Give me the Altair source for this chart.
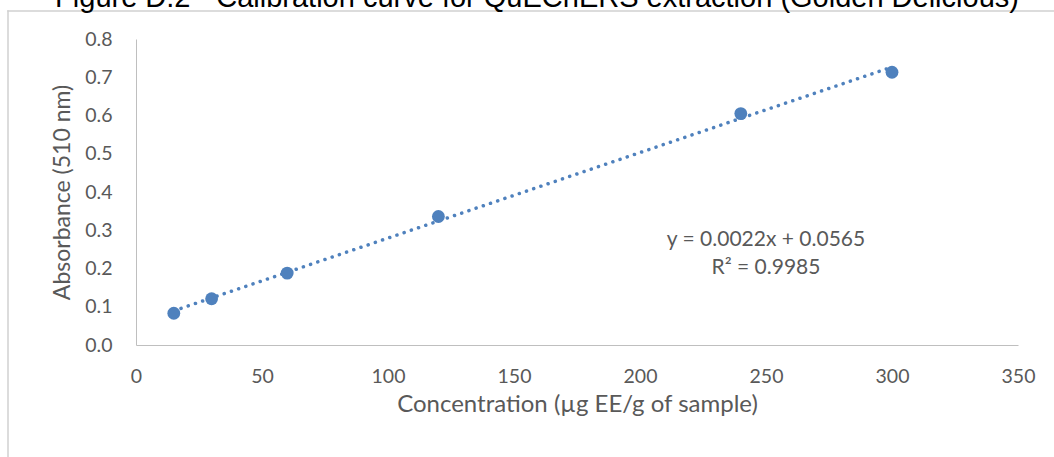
import altair as alt
import pandas as pd

# data
concentration = [15, 30, 60, 120, 240, 300]
absorbance = [0.083, 0.121, 0.188, 0.336, 0.605, 0.713]

x_ticks = [0, 50, 100, 150, 200, 250, 300, 350]
y_ticks = [0.0, 0.1, 0.2, 0.3, 0.4, 0.5, 0.6, 0.7, 0.8]

eq_lines = ["y = 0.0022x + 0.0565", "R\u00b2 = 0.9985"]
eq_x = [250, 250]
eq_y = [0.2745, 0.201]

title_text = ["Figure D.2 - Calibration curve for QuEChERS extraction (Golden Delicious)"]

df = pd.DataFrame({"x": concentration, "y": absorbance})
eq_df = pd.DataFrame({"t": eq_lines, "x": eq_x, "y": eq_y})
title_df = pd.DataFrame({"t": title_text})

BLUE = "#4F81BD"
GREY = "#595959"
FONT = "Lato"

xs = alt.Scale(domain=[0, 350], nice=False, zero=True)
ys = alt.Scale(domain=[0, 0.8], nice=False, zero=True)

x_axis = alt.Axis(
    values=x_ticks, title="Concentration (\u00b5g EE/g of sample)", format="d",
    domainColor="#BFBFBF", ticks=False, grid=False, labelPadding=22,
    labelFlush=False, labelOverlap=False,
    labelColor=GREY, labelFont=FONT, labelFontSize=19.5, titleFont=FONT,
    titleFontSize=24, titleFontWeight="normal", titleColor=GREY, titlePadding=7)
y_axis = alt.Axis(
    values=y_ticks, title="Absorbance (510 nm)", format=".1f",
    domainColor="#BFBFBF", ticks=False, grid=False, labelPadding=24,
    labelFlush=False, labelOverlap=False,
    labelColor=GREY, labelFont=FONT, labelFontSize=19.5, titleFont=FONT,
    titleFontSize=23, titleFontWeight="normal", titleColor=GREY, titlePadding=10)

x_enc = alt.X("x:Q", scale=xs, axis=x_axis)
y_enc = alt.Y("y:Q", scale=ys, axis=y_axis)

border_left = alt.Chart(title_df).mark_rect(color="#D0D0D0").encode(
    x=alt.value(-128.75), x2=alt.value(-127.25), y=alt.value(-28.75), y2=alt.value(460))
border_top = alt.Chart(title_df).mark_rect(color="#D0D0D0").encode(
    x=alt.value(-128.75), x2=alt.value(920), y=alt.value(-28.75), y2=alt.value(-27.25))

title = alt.Chart(title_df).mark_text(font="Liberation Sans", fontSize=29, color="#000000",
                                      align="center", baseline="alphabetic").encode(
    x=alt.value(401), y=alt.value(-32), text="t:N")

trend = alt.Chart(df).transform_regression("x", "y").mark_line(
    color=BLUE, strokeDash=[0.1, 7.5], strokeCap="round", strokeWidth=3.5
).encode(x=x_enc, y=y_enc)

pts = alt.Chart(df).mark_circle(color=BLUE, opacity=1, size=165).encode(x=x_enc, y=y_enc)

eq = alt.Chart(eq_df).mark_text(font=FONT, fontSize=21, color=GREY, align="center",
                                baseline="middle").encode(
    x=x_enc, y=y_enc, text="t:N")

chart = alt.layer(border_left, border_top, title, trend, pts, eq).properties(
    width=882, height=306,
    autosize=alt.AutoSizeParams(type="none"),
    padding={"left": 136, "top": 39, "right": 36, "bottom": 112},
).configure(background="white").configure_view(stroke=None)

chart.save("out.html", embed_options={"renderer": "svg", "actions": False})
